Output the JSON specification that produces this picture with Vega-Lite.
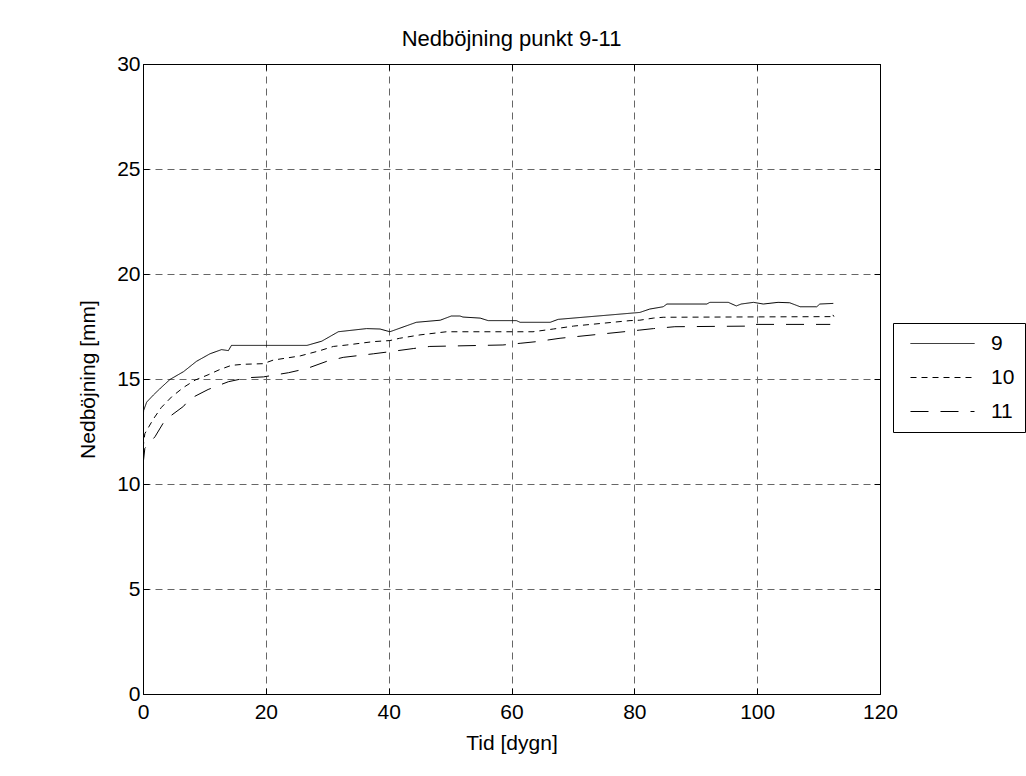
{
  "$schema": "https://vega.github.io/schema/vega-lite/v6.json",
  "width": 737,
  "height": 630,
  "autosize": "none",
  "padding": {"left": 143, "top": 64, "right": 146, "bottom": 82},
  "background": "white",
  "title": {"text": "Nedböjning punkt 9-11", "fontSize": 22, "font": "Liberation Sans", "fontWeight": "normal", "color": "black", "offset": 2, "anchor": "middle"},
  "config": {
    "view": {"stroke": "black", "strokeWidth": 1},
    "axis": {"labelFont": "Liberation Sans", "titleFont": "Liberation Sans", "labelFontSize": 21, "titleFontSize": 21, "titleFontWeight": "normal", "labelColor": "black", "titleColor": "black", "domainColor": "black", "tickColor": "black"}
  },
  "data": {"values": [
    {"t": 0, "v": 12.9, "s": "9"}, {"t": 0.1, "v": 13.5, "s": "9"}, {"t": 0.6, "v": 13.9, "s": "9"}, {"t": 1.7, "v": 14.24, "s": "9"}, {"t": 2.8, "v": 14.55, "s": "9"}, {"t": 4.4, "v": 14.98, "s": "9"}, {"t": 6.6, "v": 15.35, "s": "9"}, {"t": 8.7, "v": 15.84, "s": "9"}, {"t": 10.9, "v": 16.2, "s": "9"}, {"t": 12.8, "v": 16.4, "s": "9"}, {"t": 13.9, "v": 16.35, "s": "9"}, {"t": 14.4, "v": 16.6, "s": "9"}, {"t": 26.7, "v": 16.6, "s": "9"}, {"t": 29.1, "v": 16.8, "s": "9"}, {"t": 31.8, "v": 17.25, "s": "9"}, {"t": 36.4, "v": 17.4, "s": "9"}, {"t": 38.6, "v": 17.38, "s": "9"}, {"t": 40.2, "v": 17.25, "s": "9"}, {"t": 44.5, "v": 17.7, "s": "9"}, {"t": 48.4, "v": 17.8, "s": "9"}, {"t": 50.2, "v": 18.0, "s": "9"}, {"t": 51.6, "v": 18.0, "s": "9"}, {"t": 52.1, "v": 17.95, "s": "9"}, {"t": 54.9, "v": 17.9, "s": "9"}, {"t": 56.2, "v": 17.78, "s": "9"}, {"t": 60.8, "v": 17.78, "s": "9"}, {"t": 61.4, "v": 17.7, "s": "9"}, {"t": 66.3, "v": 17.7, "s": "9"}, {"t": 67.6, "v": 17.84, "s": "9"}, {"t": 80.9, "v": 18.17, "s": "9"}, {"t": 82.5, "v": 18.33, "s": "9"}, {"t": 84.7, "v": 18.44, "s": "9"}, {"t": 85.3, "v": 18.57, "s": "9"}, {"t": 91.8, "v": 18.57, "s": "9"}, {"t": 92.3, "v": 18.65, "s": "9"}, {"t": 95.3, "v": 18.65, "s": "9"}, {"t": 96.6, "v": 18.48, "s": "9"}, {"t": 97.4, "v": 18.57, "s": "9"}, {"t": 99.4, "v": 18.65, "s": "9"}, {"t": 101, "v": 18.57, "s": "9"}, {"t": 103.4, "v": 18.65, "s": "9"}, {"t": 105.3, "v": 18.63, "s": "9"}, {"t": 107, "v": 18.44, "s": "9"}, {"t": 109.7, "v": 18.44, "s": "9"}, {"t": 110.2, "v": 18.57, "s": "9"}, {"t": 112.4, "v": 18.6, "s": "9"},
    {"t": 0, "v": 11.7, "s": "10"}, {"t": 0.3, "v": 12.4, "s": "10"}, {"t": 1.7, "v": 13.1, "s": "10"}, {"t": 3.0, "v": 13.65, "s": "10"}, {"t": 4.7, "v": 14.16, "s": "10"}, {"t": 6.6, "v": 14.6, "s": "10"}, {"t": 8.5, "v": 14.95, "s": "10"}, {"t": 10.6, "v": 15.2, "s": "10"}, {"t": 12.5, "v": 15.45, "s": "10"}, {"t": 14.4, "v": 15.65, "s": "10"}, {"t": 16.3, "v": 15.7, "s": "10"}, {"t": 19.6, "v": 15.73, "s": "10"}, {"t": 21.2, "v": 15.9, "s": "10"}, {"t": 25.6, "v": 16.1, "s": "10"}, {"t": 28.8, "v": 16.35, "s": "10"}, {"t": 31.0, "v": 16.55, "s": "10"}, {"t": 33.2, "v": 16.62, "s": "10"}, {"t": 37.5, "v": 16.78, "s": "10"}, {"t": 40.2, "v": 16.83, "s": "10"}, {"t": 41.8, "v": 16.94, "s": "10"}, {"t": 45.1, "v": 17.1, "s": "10"}, {"t": 49.4, "v": 17.25, "s": "10"}, {"t": 63.5, "v": 17.25, "s": "10"}, {"t": 66.8, "v": 17.38, "s": "10"}, {"t": 70.1, "v": 17.52, "s": "10"}, {"t": 79.3, "v": 17.78, "s": "10"}, {"t": 80.9, "v": 17.8, "s": "10"}, {"t": 83.1, "v": 17.9, "s": "10"}, {"t": 84.7, "v": 17.94, "s": "10"}, {"t": 111.9, "v": 17.97, "s": "10"}, {"t": 112.2, "v": 18.12, "s": "10"}, {"t": 112.5, "v": 17.97, "s": "10"},
    {"t": 0, "v": 10.9, "s": "11"}, {"t": 0.3, "v": 11.7, "s": "11"}, {"t": 1.95, "v": 12.25, "s": "11"}, {"t": 3.6, "v": 13.05, "s": "11"}, {"t": 6.6, "v": 13.7, "s": "11"}, {"t": 7.6, "v": 14.05, "s": "11"}, {"t": 10.6, "v": 14.5, "s": "11"}, {"t": 13.9, "v": 14.87, "s": "11"}, {"t": 16.9, "v": 15.06, "s": "11"}, {"t": 19.6, "v": 15.1, "s": "11"}, {"t": 23.7, "v": 15.3, "s": "11"}, {"t": 26.7, "v": 15.5, "s": "11"}, {"t": 29.9, "v": 15.84, "s": "11"}, {"t": 32.6, "v": 16.03, "s": "11"}, {"t": 37.5, "v": 16.2, "s": "11"}, {"t": 40.2, "v": 16.3, "s": "11"}, {"t": 44, "v": 16.45, "s": "11"}, {"t": 46.7, "v": 16.55, "s": "11"}, {"t": 58.6, "v": 16.62, "s": "11"}, {"t": 61.4, "v": 16.7, "s": "11"}, {"t": 64.1, "v": 16.78, "s": "11"}, {"t": 67.9, "v": 16.94, "s": "11"}, {"t": 79.3, "v": 17.28, "s": "11"}, {"t": 80.9, "v": 17.33, "s": "11"}, {"t": 83.1, "v": 17.4, "s": "11"}, {"t": 86.6, "v": 17.49, "s": "11"}, {"t": 99.4, "v": 17.52, "s": "11"}, {"t": 99.6, "v": 17.6, "s": "11"}, {"t": 111.9, "v": 17.6, "s": "11"}
  ]},
  "layer": [
    {
      "mark": {"type": "line", "color": "black", "strokeWidth": 1, "clip": true},
      "encoding": {
        "x": {"field": "t", "type": "quantitative", "scale": {"domain": [0, 120], "nice": false, "zero": false},
              "axis": {"title": "Tid [dygn]", "values": [0, 20, 40, 60, 80, 100, 120], "grid": true, "gridColor": "#666", "gridDash": [7, 5], "gridOpacity": 1, "tickSize": -6, "labelPadding": 13, "titlePadding": 10, "labelFlush": false}},
        "y": {"field": "v", "type": "quantitative", "scale": {"domain": [0, 30], "nice": false, "zero": false},
              "axis": {"title": "Nedböjning [mm]", "values": [0, 5, 10, 15, 20, 25, 30], "grid": true, "gridColor": "#666", "gridDash": [7, 5], "gridOpacity": 1, "tickSize": -6, "labelPadding": 9, "titlePadding": 18, "labelFlush": false}},
        "strokeDash": {"field": "s", "type": "nominal", "sort": ["9", "10", "11"],
          "scale": {"domain": ["9", "10", "11"], "range": [[1, 0], [6, 5], [18, 12]]},
          "legend": {"title": null, "orient": "none", "legendX": 750, "legendY": 259, "strokeColor": "black", "fillColor": "white", "padding": 10, "symbolType": "M-0.375,0H7.625", "symbolSize": 256, "symbolStrokeColor": "black", "symbolStrokeWidth": 1, "labelFontSize": 21, "labelFont": "Liberation Sans", "labelColor": "black", "labelOffset": 67, "rowPadding": 12, "cornerRadius": 0}}
      }
    },
    {
      "mark": {"type": "line", "opacity": 0},
      "encoding": {
        "x": {"field": "t", "type": "quantitative", "scale": {"domain": [0, 120], "nice": false, "zero": false},
              "axis": {"orient": "top", "title": null, "labels": false, "values": [0, 20, 40, 60, 80, 100, 120], "grid": false, "tickSize": -6}},
        "y": {"field": "v", "type": "quantitative", "scale": {"domain": [0, 30], "nice": false, "zero": false},
              "axis": {"orient": "right", "title": null, "labels": false, "values": [0, 5, 10, 15, 20, 25, 30], "grid": false, "tickSize": -6}},
        "detail": {"field": "s"}
      }
    }
  ],
  "resolve": {"axis": {"x": "independent", "y": "independent"}}
}
